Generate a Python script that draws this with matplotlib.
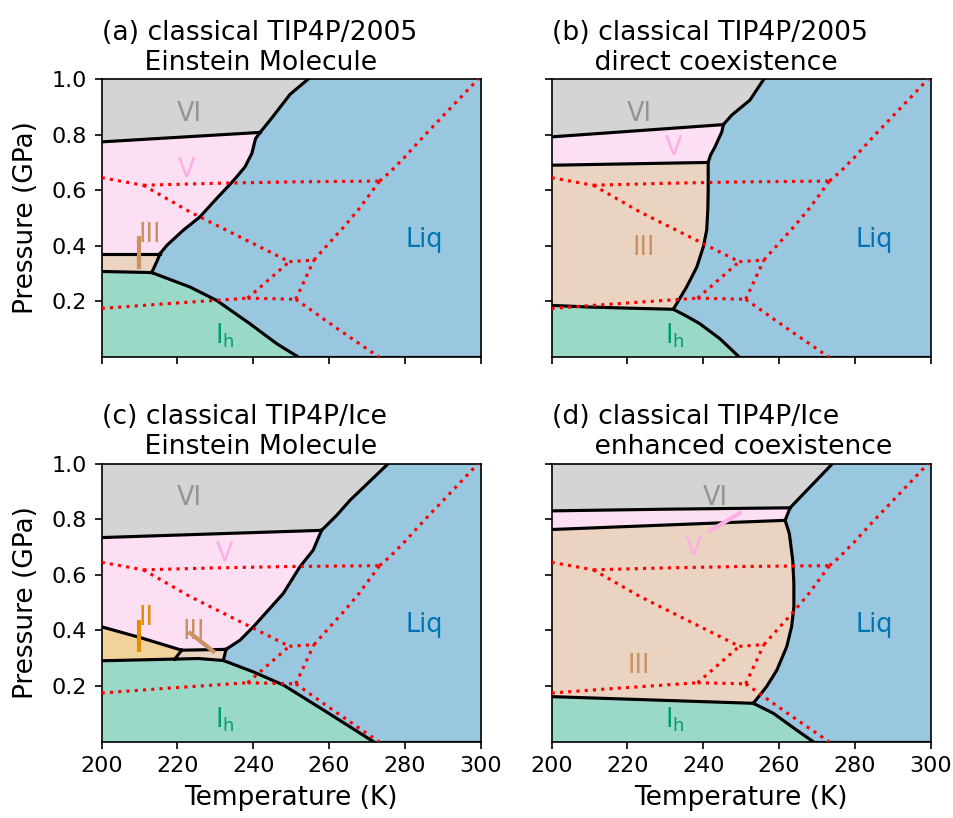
import matplotlib
matplotlib.use("Agg")
import matplotlib.pyplot as plt
from matplotlib.colors import to_rgb

# ---------------------------------------------------------------------------
# Phase colours (seaborn "colorblind" palette) and axis settings
# ---------------------------------------------------------------------------
COL_LIQ = "#0173b2"
COL_II = "#de8f05"
COL_IH = "#029e73"
COL_III = "#ca9161"
COL_V = "#fbafe4"
COL_VI = "#949494"
FILL_ALPHA = 0.4

T_LIM = (200, 300)
P_LIM = (0.0, 1.0)
T_TICKS = [200, 220, 240, 260, 280, 300]
P_TICKS = [0.2, 0.4, 0.6, 0.8, 1.0]

# ---------------------------------------------------------------------------
# Experimental coexistence lines, (T [K], P [GPa])
# ---------------------------------------------------------------------------
EXP_IH_L = [(251.2, 0.208), (262.0, 0.104), (273.15, 0.0)]
EXP_IH_III = [(238.5, 0.212), (251.2, 0.208)]
EXP_IH_II = [(200.0, 0.175), (215.0, 0.190), (230.0, 0.204), (238.5, 0.212)]
EXP_II_III = [(238.5, 0.212), (249.5, 0.343)]
EXP_III_L = [(251.2, 0.208), (256.0, 0.349)]
EXP_III_V = [(249.5, 0.343), (256.0, 0.349)]
EXP_II_V = [(211.0, 0.618), (223.3, 0.522), (240.0, 0.408), (249.5, 0.343)]
EXP_II_VI = [(200.0, 0.645), (211.0, 0.618)]
EXP_V_VI = [(211.0, 0.618), (230.0, 0.625), (250.0, 0.630), (273.3, 0.633)]
EXP_V_L = [(256.0, 0.349), (260.0, 0.410), (264.0, 0.470), (268.0, 0.535),
           (273.3, 0.633)]
EXP_VI_L = [(273.3, 0.633), (276.1, 0.666), (280.0, 0.720), (285.0, 0.795),
            (292.0, 0.895), (299.3, 1.0)]

# ---------------------------------------------------------------------------
# (a) TIP4P/2005, Einstein molecule
# ---------------------------------------------------------------------------
A_VI_V = [(200.0, 0.774), (241.8, 0.808)]
A_VI_L = [(241.8, 0.808), (245.0, 0.862), (249.7, 0.945), (254.5, 1.0)]
A_V_L = [(241.8, 0.808), (240.6, 0.786), (239.6, 0.732), (237.8, 0.684),
         (235.6, 0.648), (233.9, 0.622), (230.3, 0.570), (225.9, 0.504),
         (221.5, 0.456), (217.2, 0.402), (215.4, 0.372)]
A_V_III = [(200.0, 0.372), (215.4, 0.372)]
A_III_L = [(215.4, 0.372), (214.6, 0.345), (213.2, 0.304)]
A_III_IH = [(200.0, 0.308), (213.2, 0.304)]
A_IH_L = [(213.2, 0.304), (223.3, 0.252), (230.3, 0.204), (239.1, 0.120),
          (246.2, 0.048), (251.9, 0.0)]

# ---------------------------------------------------------------------------
# (b) TIP4P/2005, direct coexistence
# ---------------------------------------------------------------------------
B_VI_V = [(200.0, 0.792), (245.3, 0.836)]
B_VI_L = [(245.3, 0.836), (247.5, 0.870), (252.3, 0.924), (256.0, 1.0)]
B_V_L = [(245.3, 0.836), (244.9, 0.810), (243.1, 0.756), (241.9, 0.726),
         (241.3, 0.700)]
B_V_III = [(200.0, 0.690), (241.3, 0.700)]
B_III_L = [(241.3, 0.700), (241.3, 0.600), (241.2, 0.530), (240.9, 0.456),
           (240.0, 0.396), (238.3, 0.324), (235.6, 0.252), (232.1, 0.172)]
B_III_IH = [(200.0, 0.186), (210.0, 0.180), (223.0, 0.175), (232.1, 0.172)]
B_IH_L = [(232.1, 0.172), (235.5, 0.148), (239.1, 0.120), (244.4, 0.066),
          (249.5, 0.0)]

# ---------------------------------------------------------------------------
# (c) TIP4P/Ice, Einstein molecule
# ---------------------------------------------------------------------------
C_VI_V = [(200.0, 0.734), (258.0, 0.760)]
C_VI_L = [(258.0, 0.760), (262.0, 0.814), (265.5, 0.868), (275.6, 1.0)]
C_V_L = [(258.0, 0.760), (255.8, 0.689), (252.3, 0.629), (247.9, 0.533),
         (240.0, 0.413), (236.5, 0.365), (232.8, 0.332)]
C_V_II = [(200.0, 0.413), (210.0, 0.375), (221.1, 0.329)]
C_V_III = [(221.1, 0.329), (232.8, 0.332)]
C_II_III = [(221.1, 0.329), (219.3, 0.297)]
C_III_L = [(232.8, 0.332), (232.1, 0.292)]
C_II_IH = [(200.0, 0.291), (219.3, 0.297)]
C_III_IH = [(219.3, 0.297), (225.5, 0.299), (232.1, 0.292)]
C_IH_L = [(232.1, 0.292), (240.0, 0.251), (247.9, 0.204), (258.5, 0.114),
          (271.7, 0.0)]

# ---------------------------------------------------------------------------
# (d) TIP4P/Ice, enhanced coexistence
# ---------------------------------------------------------------------------
D_VI_V = [(200.0, 0.830), (230.0, 0.836), (262.9, 0.841)]
D_VI_L = [(262.9, 0.841), (274.1, 1.0)]
D_V_L = [(262.9, 0.841), (261.6, 0.796)]
D_V_III = [(200.0, 0.763), (261.6, 0.796)]
D_III_L = [(261.6, 0.796), (262.7, 0.749), (263.6, 0.653), (263.9, 0.569),
           (263.9, 0.485), (263.3, 0.413), (262.0, 0.341), (259.4, 0.257),
           (256.7, 0.198), (253.2, 0.138)]
D_III_IH = [(200.0, 0.162), (253.2, 0.138)]
D_IH_L = [(253.2, 0.138), (258.5, 0.102), (264.6, 0.042), (269.0, 0.0)]

# Phase labels: (text, T, P baseline, colour)
LABELS_A = [("VI", 223.1, 0.850, COL_VI), ("V", 222.3, 0.648, COL_V),
            ("III", 212.8, 0.414, COL_III), ("Liq", 285.1, 0.396, COL_LIQ),
            ("I$_\\mathrm{h}$", 232.6, 0.050, COL_IH)]
LABELS_B = [("VI", 223.2, 0.850, COL_VI), ("V", 232.2, 0.726, COL_V),
            ("III", 224.2, 0.366, COL_III), ("Liq", 285.1, 0.396, COL_LIQ),
            ("I$_\\mathrm{h}$", 232.6, 0.050, COL_IH)]
LABELS_C = [("VI", 223.0, 0.850, COL_VI), ("V", 232.4, 0.649, COL_V),
            ("II", 211.7, 0.419, COL_II), ("III", 224.2, 0.371, COL_III),
            ("Liq", 285.1, 0.396, COL_LIQ),
            ("I$_\\mathrm{h}$", 232.6, 0.050, COL_IH)]
LABELS_D = [("VI", 243.1, 0.850, COL_VI), ("V", 237.4, 0.671, COL_V),
            ("III", 222.9, 0.248, COL_III), ("Liq", 285.1, 0.396, COL_LIQ),
            ("I$_\\mathrm{h}$", 232.6, 0.050, COL_IH)]

# Pointer strokes from a label to a thin phase region
POINTERS_A = [([(209.9, 0.436), (209.9, 0.318)], COL_III)]
POINTERS_B = []
POINTERS_C = [([(209.9, 0.437), (209.9, 0.323)], COL_II),
              ([(222.9, 0.395), (229.9, 0.320)], COL_III)]
POINTERS_D = [([(241.3, 0.754), (250.1, 0.826)], COL_V)]

TITLES = ["(a) classical TIP4P/2005\n     Einstein Molecule",
          "(b) classical TIP4P/2005\n     direct coexistence",
          "(c) classical TIP4P/Ice\n     Einstein Molecule",
          "(d) classical TIP4P/Ice\n     enhanced coexistence"]

TITLE_SIZE = 12.8
LABEL_SIZE = 12.7
TICK_SIZE = 10.7
PHASE_SIZE = 12.3


def light(color, alpha=FILL_ALPHA):
    r, g, b = to_rgb(color)
    return (1 - alpha + alpha * r, 1 - alpha + alpha * g, 1 - alpha + alpha * b)


def rev(seg):
    return list(reversed(seg))


def chain(*parts):
    pts = []
    for p in parts:
        pts.extend(p)
    return pts


def standard_regions(vi_v, vi_l, v_l, v_iii, iii_l, iii_ih, ih_l):
    return [
        (chain([(T_LIM[0], P_LIM[1])], vi_v, vi_l), COL_VI),
        (chain(vi_v, v_l, rev(v_iii)), COL_V),
        (chain(v_iii, iii_l, rev(iii_ih)), COL_III),
        (chain(iii_ih, ih_l, [(T_LIM[0], P_LIM[0])]), COL_IH),
    ]


PANELS = [
    dict(regions=standard_regions(A_VI_V, A_VI_L, A_V_L, A_V_III, A_III_L,
                                  A_III_IH, A_IH_L),
         lines=[A_VI_V, A_VI_L, A_V_L, A_V_III, A_III_L, A_III_IH, A_IH_L],
         tm=A_IH_L[-1][0], labels=LABELS_A, pointers=POINTERS_A),
    dict(regions=standard_regions(B_VI_V, B_VI_L, B_V_L, B_V_III, B_III_L,
                                  B_III_IH, B_IH_L),
         lines=[B_VI_V, B_VI_L, B_V_L, B_V_III, B_III_L, B_III_IH, B_IH_L],
         tm=B_IH_L[-1][0], labels=LABELS_B, pointers=POINTERS_B),
    dict(regions=[
            (chain([(T_LIM[0], P_LIM[1])], C_VI_V, C_VI_L), COL_VI),
            (chain(C_VI_V, C_V_L, rev(C_V_III), rev(C_V_II)), COL_V),
            (chain(C_V_II, C_II_III, rev(C_II_IH)), COL_II),
            (chain(C_V_III, C_III_L, rev(C_III_IH)), COL_III),
            (chain(C_II_IH, C_III_IH, C_IH_L, [(T_LIM[0], P_LIM[0])]), COL_IH)],
         lines=[C_VI_V, C_VI_L, C_V_L, C_V_II, C_V_III, C_II_III, C_III_L,
                C_II_IH, C_III_IH, C_IH_L],
         tm=C_IH_L[-1][0], labels=LABELS_C, pointers=POINTERS_C),
    dict(regions=standard_regions(D_VI_V, D_VI_L, D_V_L, D_V_III, D_III_L,
                                  D_III_IH, D_IH_L),
         lines=[D_VI_V, D_VI_L, D_V_L, D_V_III, D_III_L, D_III_IH, D_IH_L],
         tm=D_IH_L[-1][0], labels=LABELS_D, pointers=POINTERS_D),
]

EXP_LINES = [EXP_IH_L, EXP_IH_III, EXP_IH_II, EXP_II_III, EXP_III_L,
             EXP_III_V, EXP_II_V, EXP_II_VI, EXP_V_VI, EXP_V_L, EXP_VI_L]

fig, axes = plt.subplots(2, 2, figsize=(953 / 150, 818 / 150), dpi=150,
                         sharex=True, sharey=True)
fig.subplots_adjust(left=0.1067, right=0.9766, top=0.9034, bottom=0.0933,
                    wspace=0.187, hspace=0.383)

for ax, panel, title in zip(axes.flat, PANELS, TITLES):
    ax.set_facecolor(light(COL_LIQ))
    for pts, col in panel["regions"]:
        ax.fill([p[0] for p in pts], [p[1] for p in pts],
                facecolor=light(col), edgecolor="none", zorder=1)
    for seg in panel["lines"]:
        ax.plot([p[0] for p in seg], [p[1] for p in seg], color="black",
                lw=1.5, zorder=2, solid_joinstyle="round")
    ax.plot([panel["tm"], T_LIM[1]], [P_LIM[0], P_LIM[0]], color="black",
            lw=1.5, zorder=2)
    for seg in EXP_LINES:
        ax.plot([p[0] for p in seg], [p[1] for p in seg], color="red",
                lw=1.5, ls=":", zorder=3)
    for seg, col in panel["pointers"]:
        ax.plot([p[0] for p in seg], [p[1] for p in seg], color=col,
                lw=2, zorder=4, solid_capstyle="butt")
    for text, t, p, col in panel["labels"]:
        ax.text(t, p, text, color=col, fontsize=PHASE_SIZE, ha="center",
                va="baseline", zorder=5)
    ax.set_title(title, loc="left", fontsize=TITLE_SIZE, pad=4.5)
    ax.set_xlim(*T_LIM)
    ax.set_ylim(*P_LIM)
    ax.set_xticks(T_TICKS)
    ax.set_yticks(P_TICKS)
    ax.tick_params(labelsize=TICK_SIZE)

for ax in axes[:, 0]:
    ax.set_ylabel("Pressure (GPa)", fontsize=LABEL_SIZE, labelpad=6)
for ax in axes[1, :]:
    ax.set_xlabel("Temperature (K)", fontsize=LABEL_SIZE)

fig.savefig("out.png", dpi=150)
